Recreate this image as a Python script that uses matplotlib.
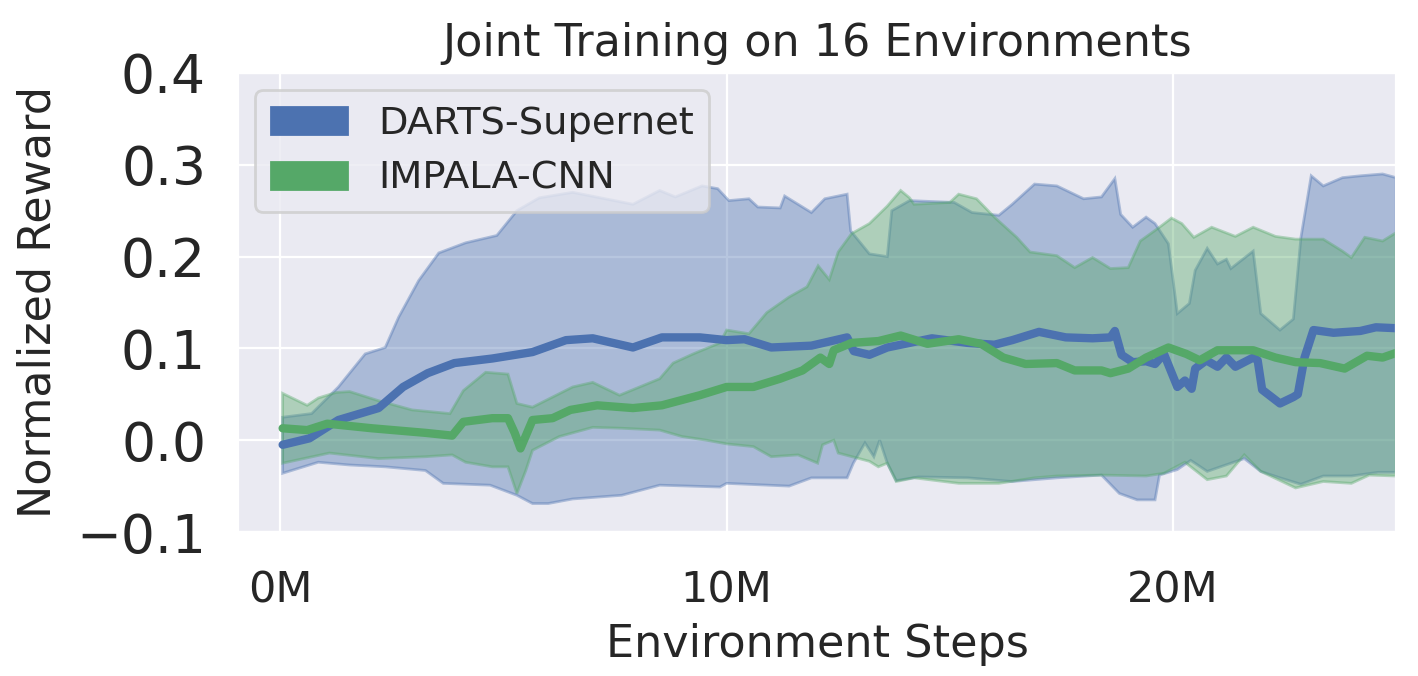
import numpy as np
import matplotlib
matplotlib.use("Agg")
import matplotlib.pyplot as plt
from matplotlib.patches import Patch
from matplotlib.ticker import FuncFormatter
import seaborn as sns

# Valores (x em milhões de passos)
DARTS_X = [0.05, 0.65, 1.3, 2.2, 2.75, 3.3, 3.9, 4.75, 5.65, 6.4, 7.0, 7.9, 8.55, 9.4, 10.0, 10.4,
           11.0, 11.9, 12.7, 12.85, 13.2, 13.6, 14.1, 14.6, 15.4, 16.0, 16.4, 17.0, 17.6, 18.2,
           18.6, 18.7, 18.85, 19.1, 19.4, 19.6, 19.8, 20.1, 20.27, 20.42, 20.5, 20.75, 21.0, 21.2,
           21.4, 21.8, 21.9, 22.0, 22.4, 22.7, 22.8, 22.95, 23.15, 23.6, 24.2, 24.55, 25.0]
DARTS_MEAN = [-0.005, 0.002, 0.022, 0.035, 0.058, 0.073, 0.084, 0.089, 0.096, 0.109, 0.111, 0.101,
              0.112, 0.112, 0.109, 0.110, 0.101, 0.103, 0.112, 0.097, 0.093, 0.101, 0.106, 0.111,
              0.106, 0.104, 0.109, 0.118, 0.112, 0.111, 0.112, 0.119, 0.093, 0.085, 0.086, 0.083,
              0.094, 0.058, 0.065, 0.056, 0.078, 0.087, 0.080, 0.090, 0.080, 0.090, 0.087, 0.055,
              0.040, 0.047, 0.050, 0.090, 0.120, 0.117, 0.119, 0.123, 0.122]

DARTS_UP_X = [0.05, 0.7, 1.3, 1.9, 2.35, 2.65, 3.1, 3.55, 4.15, 4.85, 5.3, 5.8, 6.55, 7.9, 8.5, 8.85,
              9.45, 9.8, 10.05, 10.5, 10.7, 11.2, 11.3, 11.9, 12.2, 12.7, 12.78, 13.2, 13.6, 13.7,
              14.1, 15.1, 15.5, 16.1, 16.4, 16.9, 17.4, 18.0, 18.4, 18.7, 18.83, 19.1, 19.4, 19.6,
              19.9, 20.1, 20.37, 20.5, 20.77, 21.0, 21.2, 21.3, 21.8, 21.97, 22.4, 22.7, 22.87,
              23.1, 23.37, 23.8, 24.2, 24.7, 25.0]
DARTS_UP = [0.025, 0.029, 0.058, 0.094, 0.101, 0.134, 0.174, 0.204, 0.215, 0.223, 0.250, 0.264,
            0.270, 0.257, 0.272, 0.265, 0.277, 0.274, 0.261, 0.263, 0.254, 0.253, 0.266, 0.248,
            0.263, 0.268, 0.228, 0.203, 0.200, 0.250, 0.261, 0.259, 0.248, 0.245, 0.257, 0.279,
            0.277, 0.263, 0.265, 0.285, 0.246, 0.232, 0.243, 0.236, 0.214, 0.138, 0.149, 0.185,
            0.209, 0.192, 0.197, 0.187, 0.206, 0.138, 0.120, 0.132, 0.221, 0.288, 0.277, 0.286,
            0.288, 0.290, 0.286]

DARTS_LO_X = [0.05, 0.85, 1.55, 2.35, 3.25, 3.65, 4.7, 5.3, 5.65, 6.0, 6.55, 7.65, 8.5, 9.85, 10.0,
              11.4, 11.9, 12.7, 12.84, 13.1, 13.3, 13.43, 13.6, 13.8, 14.3, 15.4, 16.4, 17.4, 18.4,
              18.8, 19.2, 19.6, 19.7, 20.1, 20.4, 20.77, 21.6, 21.97, 22.4, 22.87, 23.37, 24.0,
              24.6, 25.0]
DARTS_LO = [-0.036, -0.024, -0.027, -0.029, -0.033, -0.047, -0.049, -0.060, -0.069, -0.069, -0.064,
            -0.060, -0.049, -0.051, -0.047, -0.050, -0.041, -0.041, -0.025, -0.003, -0.018, 0.000,
            -0.025, -0.044, -0.040, -0.041, -0.045, -0.041, -0.038, -0.058, -0.065, -0.065, -0.038,
            -0.032, -0.022, -0.034, -0.020, -0.034, -0.041, -0.048, -0.039, -0.039, -0.035, -0.035]

IMPALA_X = [0.05, 0.6, 1.05, 2.05, 3.25, 3.85, 4.1, 4.75, 5.1, 5.25, 5.38, 5.65, 6.1, 6.5, 7.1, 7.9,
            8.55, 9.4, 10.0, 10.6, 11.2, 11.7, 12.1, 12.3, 12.4, 12.8, 13.4, 13.9, 14.5, 15.2, 15.7,
            16.2, 16.7, 17.4, 17.8, 18.4, 18.6, 19.0, 19.4, 19.9, 20.3, 20.6, 21.0, 21.8, 22.3,
            22.75, 23.3, 23.85, 24.35, 24.7, 25.0]
IMPALA_MEAN = [0.013, 0.011, 0.018, 0.013, 0.008, 0.005, 0.020, 0.024, 0.024, 0.008, -0.009, 0.022,
               0.024, 0.033, 0.038, 0.035, 0.038, 0.049, 0.058, 0.058, 0.067, 0.076, 0.090, 0.083,
               0.098, 0.106, 0.108, 0.114, 0.105, 0.110, 0.105, 0.090, 0.083, 0.084, 0.076, 0.076,
               0.073, 0.078, 0.090, 0.101, 0.094, 0.087, 0.098, 0.098, 0.090, 0.085, 0.084, 0.078,
               0.092, 0.090, 0.095]

IMPALA_UP_X = [0.05, 0.6, 0.85, 1.25, 1.55, 2.2, 2.95, 3.8, 4.1, 4.6, 5.1, 5.3, 5.65, 6.55, 7.0, 7.6,
               8.5, 8.8, 9.25, 9.85, 10.0, 10.5, 10.9, 11.4, 11.8, 12.05, 12.3, 12.5, 12.8, 13.2,
               13.6, 13.9, 14.1, 14.2, 15.0, 15.2, 15.6, 16.0, 16.5, 16.8, 17.4, 17.8, 18.2, 18.6,
               19.0, 19.27, 19.7, 19.97, 20.2, 20.47, 20.87, 21.4, 21.8, 22.3, 22.75, 23.37, 23.8,
               24.0, 24.3, 24.7, 25.0]
IMPALA_UP = [0.051, 0.038, 0.046, 0.052, 0.053, 0.043, 0.033, 0.029, 0.054, 0.074, 0.072, 0.040,
             0.036, 0.058, 0.063, 0.049, 0.067, 0.084, 0.094, 0.106, 0.120, 0.116, 0.139, 0.156,
             0.167, 0.190, 0.175, 0.205, 0.225, 0.236, 0.255, 0.272, 0.264, 0.257, 0.259, 0.268,
             0.263, 0.243, 0.221, 0.205, 0.201, 0.188, 0.199, 0.187, 0.188, 0.217, 0.232, 0.242,
             0.236, 0.221, 0.232, 0.222, 0.232, 0.222, 0.219, 0.219, 0.206, 0.199, 0.221, 0.217,
             0.226]

IMPALA_LO_X = [0.05, 1.1, 2.2, 3.25, 3.85, 4.15, 4.75, 5.1, 5.3, 5.5, 5.65, 6.25, 7.0, 7.65, 8.5, 9.0,
               9.55, 10.0, 10.6, 11.0, 11.6, 12.04, 12.15, 12.4, 12.5, 13.2, 13.4, 13.6, 13.8, 14.2,
               15.2, 16.1, 16.9, 17.4, 18.4, 19.4, 19.8, 20.27, 20.77, 21.2, 21.6, 21.97, 22.75,
               23.37, 24.0, 24.4, 25.0]
IMPALA_LO = [-0.025, -0.014, -0.020, -0.018, -0.016, -0.024, -0.029, -0.029, -0.058, -0.033, -0.011,
             0.004, 0.014, 0.013, 0.011, 0.004, 0.000, -0.004, -0.007, -0.018, -0.016, -0.025,
             -0.005, 0.000, -0.014, -0.023, -0.029, -0.025, -0.045, -0.041, -0.047, -0.047, -0.041,
             -0.039, -0.038, -0.039, -0.036, -0.024, -0.043, -0.039, -0.016, -0.034, -0.052,
             -0.045, -0.047, -0.038, -0.039]

LABELS = ["DARTS-Supernet", "IMPALA-CNN"]
COLORS = ["#4C72B0", "#55A868"]
XTICKS = [0, 10, 20]
YTICKS = [-0.1, 0.0, 0.1, 0.2, 0.3, 0.4]


def band(ax, xu, yu, xl, yl, color):
    # polígono: borda superior da esquerda p/ direita, inferior de volta
    ax.fill(np.r_[xu, xl[::-1]], np.r_[yu, yl[::-1]], color=color, alpha=0.4, linewidth=1)


sns.set_style("darkgrid")
plt.rcParams["font.family"] = ["DejaVu Sans"]

fig, ax = plt.subplots(figsize=(7.09, 3.38), dpi=200)
fig.subplots_adjust(left=238 / 1418, right=1396 / 1418, bottom=1 - 532 / 676, top=1 - 73 / 676)

band(ax, DARTS_UP_X, DARTS_UP, DARTS_LO_X, DARTS_LO, COLORS[0])
band(ax, IMPALA_UP_X, IMPALA_UP, IMPALA_LO_X, IMPALA_LO, COLORS[1])
ax.plot(DARTS_X, DARTS_MEAN, color=COLORS[0], linewidth=3)
ax.plot(IMPALA_X, IMPALA_MEAN, color=COLORS[1], linewidth=3)

ax.set_xlim(-0.95, 25.0)
ax.set_ylim(-0.1, 0.4)
ax.set_xticks(XTICKS)
ax.set_yticks(YTICKS)
ax.xaxis.set_major_formatter(FuncFormatter(lambda v, _: f"{v:.0f}M"))
ax.tick_params(axis="x", labelsize=15.5, pad=10)
ax.tick_params(axis="y", labelsize=19.3, pad=8)

ax.set_xlabel("Environment Steps", fontsize=16)
ax.set_ylabel("Normalized Reward", fontsize=16, labelpad=6)
ax.set_title("Joint Training on 16 Environments", fontsize=16)

handles = [Patch(color=c, label=l) for c, l in zip(COLORS, LABELS)]
ax.legend(handles=handles, loc="upper left", fontsize=13.8, borderaxespad=0.45)

fig.savefig("out.png", dpi=200)
